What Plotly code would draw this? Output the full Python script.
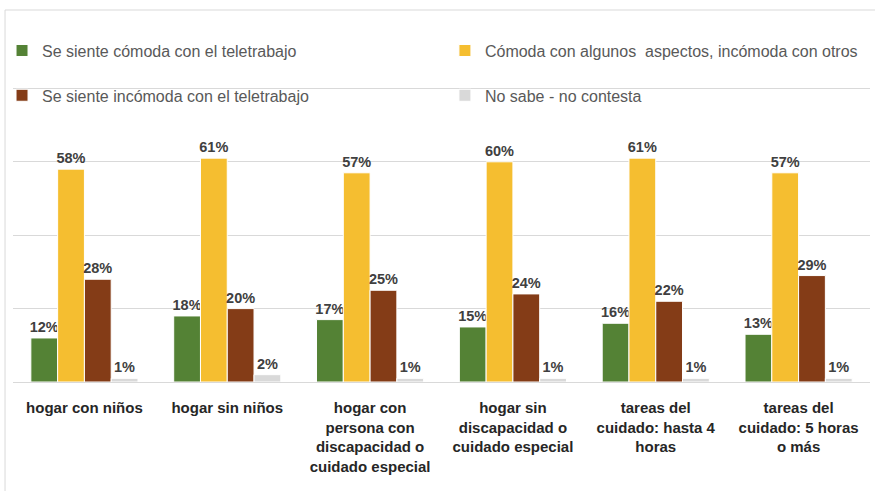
import plotly.graph_objects as go

categories = [
    "hogar con niños",
    "hogar sin niños",
    "hogar con<br>persona con<br>discapacidad o<br>cuidado especial",
    "hogar sin<br>discapacidad o<br>cuidado especial",
    "tareas del<br>cuidado: hasta 4<br>horas",
    "tareas del<br>cuidado: 5 horas<br>o más",
]

comoda = [12, 18, 17, 15, 16, 13]
algunos = [58, 61, 57, 60, 61, 57]
incomoda = [28, 20, 25, 24, 22, 29]
no_sabe = [1, 2, 1, 1, 1, 1]

series = [
    ("Se siente cómoda con el teletrabajo", comoda, "#548235", "legend"),
    ("Cómoda con algunos  aspectos, incómoda con otros", algunos, "#F5BE30", "legend2"),
    ("Se siente incómoda con el teletrabajo", incomoda, "#843C17", "legend3"),
    ("No sabe - no contesta", no_sabe, "#D9D9D9", "legend4"),
]

font_family = "Liberation Sans, Arial, sans-serif"

fig = go.Figure()
for name, vals, color, leg in series:
    fig.add_trace(go.Bar(
        x=categories, y=vals, name=name, legend=leg, showlegend=True,
        marker=dict(color=color, line=dict(color="white", width=1)),
        text=[f"{v}%" for v in vals], textposition="outside",
        constraintext="none", cliponaxis=False,
        textfont=dict(family=font_family, size=14.5, color="#404040", weight="bold"),
    ))

legend_style = dict(
    orientation="v", font=dict(family=font_family, size=16, color="#595959"),
    bgcolor="rgba(0,0,0,0)", itemwidth=30, xanchor="left", yanchor="middle",
)
fig.update_layout(
    width=875, height=491,
    margin=dict(l=13, r=5, t=15, b=109, autoexpand=False),
    paper_bgcolor="white", plot_bgcolor="white",
    showlegend=True,
    barmode="group", bargap=0.25, bargroupgap=0.0,
    font=dict(family=font_family),
    legend=dict(x=-0.0128, y=0.903, **legend_style),
    legend2=dict(x=0.504, y=0.903, **legend_style),
    legend3=dict(x=-0.0128, y=0.781, **legend_style),
    legend4=dict(x=0.504, y=0.781, **legend_style),
    xaxis=dict(
        tickfont=dict(family=font_family, size=15, color="#262626", weight="bold"),
        showgrid=False, showline=False, ticks="outside", ticklen=12,
        tickcolor="rgba(0,0,0,0)", fixedrange=True, automargin=False,
    ),
    yaxis=dict(
        range=[0, 100], dtick=20, showticklabels=False, automargin=False,
        showgrid=True, gridcolor="#D9D9D9", gridwidth=1,
        zeroline=True, zerolinecolor="#D9D9D9", zerolinewidth=1,
    ),
    shapes=[
        dict(type="line", xref="paper", yref="paper", x0=-0.0093, x1=1.2,
             y0=1.0136, y1=1.0136, line=dict(color="#D9D9D9", width=1)),
        dict(type="line", xref="paper", yref="paper", x0=-0.0093, x1=-0.0093,
             y0=1.0136, y1=-0.5, line=dict(color="#D9D9D9", width=1)),
    ],
)

# drop the browser's default page margin so the figure sits at the window corner
fig.write_html("out.html", config={"displayModeBar": False},
               post_script="document.body.style.margin='0px';")
